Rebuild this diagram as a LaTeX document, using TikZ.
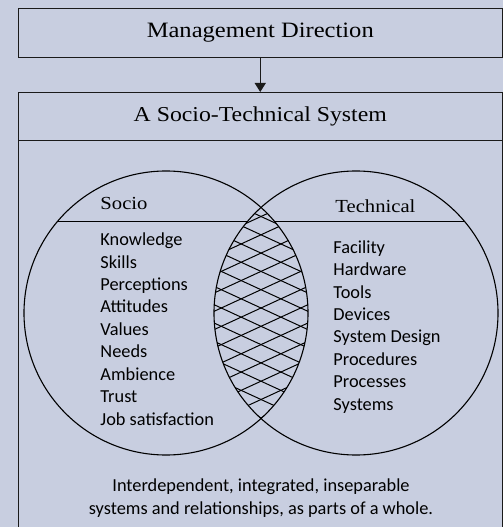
\documentclass[tikz,border=0pt]{standalone}
\usepackage{fontspec}
\setmainfont{Liberation Serif}[FakeStretch=1.12]
\setsansfont{Carlito}
\usetikzlibrary{arrows.meta, positioning}
\definecolor{cpaper}{HTML}{C8CEE0}
\definecolor{cline}{HTML}{1A1A1A}
\tikzset{
  every picture/.style={line width=0.9bp, x=1bp, y=-1bp},
  box/.style={draw=cline, rectangle, minimum width=483.5bp, inner sep=0pt, outer sep=0pt, font=\fontsize{22}{24}\selectfont},
  arrow/.style={-{Triangle[length=9bp, width=11bp]}, draw=cline, line width=1.3bp},
  ring/.style={draw=black, circle, line width=1.1bp, minimum size=284bp, inner sep=0pt, outer sep=0pt},
  head/.style={font=\fontsize{18.5}{20}\selectfont, inner sep=0pt, anchor=base west},
  items/.style={font=\sffamily\fontsize{18.4}{22.5}\selectfont, align=left, inner sep=0pt, anchor=north west},
  note/.style={font=\sffamily\fontsize{18.4}{23}\selectfont, align=center, inner sep=0pt},
  hatch/.style={draw=black, line width=1bp},
}

\begin{document}
\begin{tikzpicture}
  \fill[cpaper] (0,0) rectangle (503,527);
  \useasboundingbox (0,0) rectangle (503,527);

  % boxes
  \node[box, minimum height=48.5bp] (mgmt) at (260.25,32.75) {Management Direction};
  \node[box, minimum height=48.7bp, font=\fontsize{21.3}{24}\selectfont] (sys) at (260.25,116.35) {A Socio-Technical System};
  \draw[arrow] (mgmt) -- (sys);
  \coordinate (floor) at (0,530);
  \draw[cline] (sys.south west) -- (sys.south west |- floor);
  \draw[cline] (sys.south east) -- (sys.south east |- floor);

  % venn
  \node[ring] (socio) at (166,313) {};
  \node[ring] (tech) at (356,313) {};
  \begin{scope}
    \clip (socio.center) circle (142bp);
    \clip (tech.center) circle (142bp);
    \foreach \k in {-9,...,9} {
      \draw[hatch] (180,{308+18.3*\k-37.3}) -- (342,{308+18.3*\k+37.3});
      \draw[hatch] (180,{308+18.3*\k+37.3}) -- (342,{308+18.3*\k-37.3});
    }
  \end{scope}
  \draw (socio.140) -- (tech.140);
  \draw (socio.40) -- (tech.40);

  % socio side
  \node[head] (sochead) at (100,210) {Socio};
  \node[items] (soclist) at (100,232.5) {Knowledge\\Skills\\Perceptions\\Attitudes\\Values\\Needs\\Ambience\\Trust\\Job satisfaction};

  % technical side
  \node[head] (techhead) at (335,212) {Technical};
  \node[items] (techlist) at (333,240) {Facility\\Hardware\\Tools\\Devices\\System Design\\Procedures\\Processes\\Systems};

  \node[note] (whole) at (261,498) {Interdependent, integrated, inseparable\\systems and relationships, as parts of a whole.};
\end{tikzpicture}
\end{document}
